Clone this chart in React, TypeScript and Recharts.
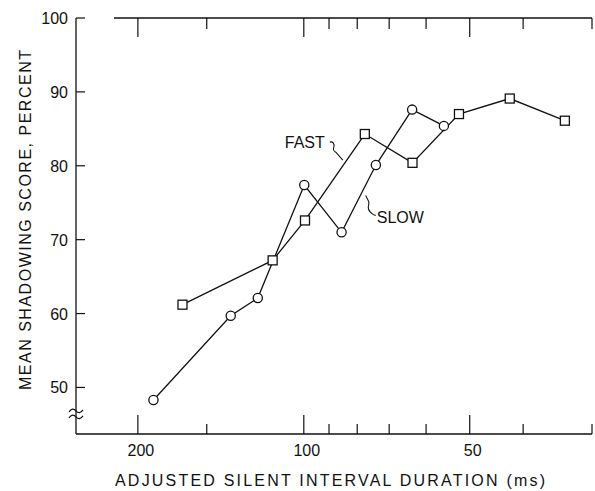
import React from 'react';
import { LineChart, Line, XAxis, YAxis, ReferenceLine, ReferenceDot } from 'recharts';

// values (x is ms, plotted on a reversed log axis)
const xTicks = [200, 150, 100, 90, 80, 70, 60, 50, 40, 30];
const xLabeled = [200, 100, 50];
const yTicks = [50, 60, 70, 80, 90, 100];

const fastMs = [166, 113.9, 99.5, 77.5, 63.5, 52.3, 42.3, 33.6];
const fastScore = [61.2, 67.2, 72.6, 84.3, 80.4, 87.0, 89.1, 86.1];
const slowMs = [187.4, 135.7, 121.2, 99.8, 85.4, 74.0, 63.6, 55.7];
const slowScore = [48.3, 59.7, 62.1, 77.4, 71.0, 80.1, 87.6, 85.4];

const fastData = fastMs.map((ms, i) => ({ ms, score: fastScore[i] }));
const slowData = slowMs.map((ms, i) => ({ ms, score: slowScore[i] }));

const INK = '#111';
const FONT = '"Liberation Sans", Arial, sans-serif';

const BottomTick = (props: any) => {
  const { x, y, payload } = props;
  const major = xLabeled.includes(payload.value);
  return (
    <g>
      <line x1={x} y1={y} x2={x} y2={y - (major ? 19 : 10)} stroke={INK} strokeWidth={1.2} />
      {major && (
        <text x={x + 3} y={y + 22} textAnchor="middle" fontSize={16} fontFamily={FONT} fill={INK}>
          {payload.value}
        </text>
      )}
    </g>
  );
};

const TopTick = (props: any) => {
  const { x, y, payload } = props;
  const major = xLabeled.includes(payload.value);
  return <line x1={x} y1={y} x2={x} y2={y + (major ? 19 : 11)} stroke={INK} strokeWidth={1.2} />;
};

const LeftTick = (props: any) => {
  const { x, y, payload } = props;
  return (
    <g>
      <line x1={x} y1={y} x2={x + 9} y2={y} stroke={INK} strokeWidth={1.2} />
      <text x={x - 8} y={y + 6} textAnchor="end" fontSize={16} fontFamily={FONT} fill={INK}>
        {payload.value}
      </text>
    </g>
  );
};

const CircleDot = (props: any) => {
  const { cx, cy, index } = props;
  return <circle key={`c${index}`} cx={cx} cy={cy} r={4.6} fill="#fff" stroke={INK} strokeWidth={1.3} />;
};

const SquareDot = (props: any) => {
  const { cx, cy, index } = props;
  return <rect key={`s${index}`} x={cx - 4.5} y={cy - 4.5} width={9} height={9} fill="#fff" stroke={INK} strokeWidth={1.3} />;
};

const FastLabel = (props: any) => {
  const { cx, cy } = props;
  return (
    <g>
      <text x={cx - 5} y={cy + 6} textAnchor="end" fontSize={16} fontFamily={FONT} fill={INK}>FAST</text>
      <path d={`M${cx},${cy} c3,-1 5,2 4,5 c-1,2 0,4 2,5 L${cx + 13},${cy + 18}`} fill="none" stroke={INK} strokeWidth={1.1} />
    </g>
  );
};

const SlowLabel = (props: any) => {
  const { cx, cy } = props;
  return (
    <g>
      <path d={`M${cx},${cy} c1,4 4,5 3,9 c-1,3 -1,6 3,9 q2,2 4,2`} fill="none" stroke={INK} strokeWidth={1.1} />
      <text x={cx + 11} y={cy + 28} fontSize={16} fontFamily={FONT} fill={INK}>SLOW</text>
    </g>
  );
};

const AxisBreak = (props: any) => {
  const { cx, cy } = props;
  return (
    <g fill="none" stroke={INK} strokeWidth={1.2}>
      <path d={`M${cx - 7},${cy - 1} q3.5,-5 7,-1 t7,-1`} />
      <path d={`M${cx - 7},${cy + 5} q3.5,-5 7,-1 t7,-1`} />
    </g>
  );
};

export default function App() {
  return (
    <div style={{ position: 'absolute', left: 0, top: 0, width: 595, height: 491, background: '#fff' }}>
      <LineChart width={595} height={491} margin={{ top: 17, right: 3, bottom: 56, left: 75 }}>
        <XAxis
          dataKey="ms"
          type="number"
          scale="log"
          domain={[30, 259]}
          reversed
          allowDataOverflow
          ticks={xTicks}
          interval={0}
          height={1}
          tickSize={0}
          tickMargin={0}
          axisLine={{ stroke: INK, strokeWidth: 1.3 }}
          tickLine={false}
          tick={<BottomTick />}
        />
        <XAxis
          xAxisId="top"
          orientation="top"
          dataKey="ms"
          type="number"
          scale="log"
          domain={[30, 259]}
          reversed
          allowDataOverflow
          ticks={xTicks}
          interval={0}
          height={1}
          tickSize={0}
          tickMargin={0}
          axisLine={false}
          tickLine={false}
          tick={<TopTick />}
        />
        <YAxis
          type="number"
          domain={[43.7, 100]}
          allowDataOverflow
          ticks={yTicks}
          interval={0}
          width={1}
          tickSize={0}
          tickMargin={0}
          axisLine={{ stroke: INK, strokeWidth: 1.3 }}
          tickLine={false}
          tick={<LeftTick />}
        />
        <ReferenceLine segment={[{ x: 221, y: 100 }, { x: 30, y: 100 }]} stroke={INK} strokeWidth={1.3} />
        <ReferenceDot x={259} y={46.55} r={0} shape={<AxisBreak />} />
        <ReferenceDot x={89.7} y={83.2} r={0} shape={<FastLabel />} />
        <ReferenceDot x={77.2} y={76.0} r={0} shape={<SlowLabel />} />
        <Line
          data={slowData}
          dataKey="score"
          stroke={INK}
          strokeWidth={1.3}
          dot={<CircleDot />}
          isAnimationActive={false}
        />
        <Line
          data={fastData}
          dataKey="score"
          stroke={INK}
          strokeWidth={1.3}
          dot={<SquareDot />}
          isAnimationActive={false}
        />
      </LineChart>
      <svg width={595} height={491} style={{ position: 'absolute', left: 0, top: 0, pointerEvents: 'none' }}>
        <text x={31} y={220} transform="rotate(-90 31 220)" textAnchor="middle" fontSize={16} fontFamily={FONT} fill={INK} textLength={340} lengthAdjust="spacing">
          MEAN SHADOWING SCORE, PERCENT
        </text>
        <text x={330} y={486} textAnchor="middle" fontSize={16} fontFamily={FONT} fill={INK} textLength={430} lengthAdjust="spacing">
          ADJUSTED SILENT INTERVAL DURATION (ms)
        </text>
      </svg>
    </div>
  );
}
